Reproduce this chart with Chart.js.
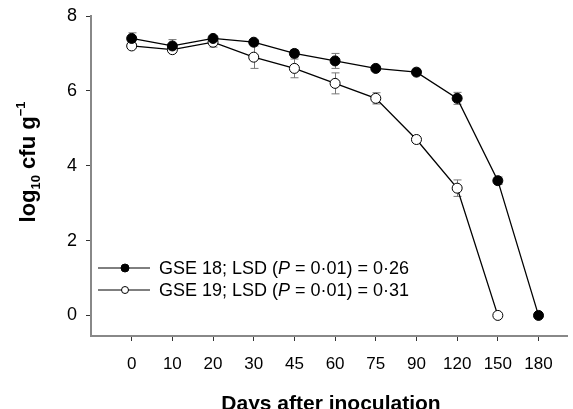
<!DOCTYPE html>
<html>
<head>
<meta charset="utf-8">
<script src="https://cdn.jsdelivr.net/npm/chart.js@4/dist/chart.umd.min.js"></script>
<style>
  html, body { margin: 0; padding: 0; background: #fff; }
  #wrap { width: 573px; height: 409px; }
</style>
</head>
<body>
<div id="wrap"><canvas id="chart-survival" width="573" height="409"></canvas></div>
<script>
const days = ['0', '10', '20', '30', '45', '60', '75', '90', '120', '150', '180'];
const gse18 = [7.4, 7.2, 7.4, 7.3, 7.0, 6.8, 6.6, 6.5, 5.8, 3.6, 0];
const gse18Err = [0.15, 0.17, 0.06, 0.06, 0.1, 0.2, 0.04, 0.05, 0.16, 0.1, 0];
const gse19 = [7.2, 7.1, 7.3, 6.9, 6.6, 6.2, 5.8, 4.7, 3.4, 0, null];
const gse19Err = [0.05, 0.06, 0.13, 0.3, 0.25, 0.28, 0.15, 0.08, 0.22, 0, null];
const yTicks = [0, 2, 4, 6, 8];
const xTitle = 'Days after inoculation';
const legendRows = [
  { pre: 'GSE 18; LSD (', post: ' = 0\u00b701) = 0\u00b726', filled: true },
  { pre: 'GSE 19; LSD (', post: ' = 0\u00b701) = 0\u00b731', filled: false }
];

const FONT = '"Liberation Sans", Arial, sans-serif';

function pts(vals) {
  return vals.map((v, i) => (v === null ? null : { x: i, y: v })).filter(p => p);
}

const errorBars = {
  id: 'errorBars',
  beforeDatasetsDraw(chart) {
    const { ctx, scales: { x, y } } = chart;
    const errs = [gse18Err, gse19Err];
    const vals = [gse18, gse19];
    ctx.save();
    ctx.strokeStyle = '#777';
    ctx.lineWidth = 1;
    errs.forEach((e, k) => {
      e.forEach((err, i) => {
        if (!err) return;
        const px = Math.round(x.getPixelForValue(i)) + 0.5;
        const top = y.getPixelForValue(vals[k][i] + err);
        const bot = y.getPixelForValue(vals[k][i] - err);
        ctx.beginPath();
        ctx.moveTo(px, top); ctx.lineTo(px, bot);
        ctx.moveTo(px - 4, top); ctx.lineTo(px + 4, top);
        ctx.moveTo(px - 4, bot); ctx.lineTo(px + 4, bot);
        ctx.stroke();
      });
    });
    ctx.restore();
  }
};

const extras = {
  id: 'extras',
  afterDraw(chart) {
    const ctx = chart.ctx;
    ctx.save();
    // legend inside the plot
    ctx.fillStyle = '#000';
    ctx.textBaseline = 'middle';
    legendRows.forEach((row, r) => {
      const yy = 268 + r * 22;
      ctx.strokeStyle = '#000';
      ctx.lineWidth = 1;
      ctx.beginPath();
      ctx.moveTo(98, yy); ctx.lineTo(150, yy);
      ctx.stroke();
      ctx.beginPath();
      ctx.arc(125, yy, row.filled ? 4 : 3.5, 0, Math.PI * 2);
      ctx.fillStyle = row.filled ? '#000' : '#fff';
      ctx.fill();
      ctx.stroke();
      ctx.fillStyle = '#000';
      let tx = 159;
      ctx.font = '18px ' + FONT;
      ctx.fillText(row.pre, tx, yy + 1);
      tx += ctx.measureText(row.pre).width;
      ctx.font = 'italic 18px ' + FONT;
      ctx.fillText('P', tx, yy + 1);
      tx += ctx.measureText('P').width;
      ctx.font = '18px ' + FONT;
      ctx.fillText(row.post, tx, yy + 1);
    });
    // x axis title, partly cut by the bottom edge as in the source
    ctx.textBaseline = 'alphabetic';
    ctx.textAlign = 'center';
    ctx.font = 'bold 21px ' + FONT;
    ctx.fillText(xTitle, 331, 410);
    ctx.textAlign = 'left';
    // y axis title: log10 cfu g-1
    ctx.translate(35, 162);
    ctx.rotate(-Math.PI / 2);
    const big = 'bold 22px ' + FONT;
    const small = 'bold 13px ' + FONT;
    const parts = [
      { t: 'log', f: big, dy: 0 },
      { t: '10', f: small, dy: 5 },
      { t: ' cfu g', f: big, dy: 0 },
      { t: '\u22121', f: small, dy: -10 }
    ];
    let w = 0;
    parts.forEach(p => { ctx.font = p.f; w += ctx.measureText(p.t).width; });
    let px = -w / 2;
    parts.forEach(p => {
      ctx.font = p.f;
      ctx.fillText(p.t, px, p.dy);
      px += ctx.measureText(p.t).width;
    });
    ctx.restore();
  }
};

new Chart(document.getElementById('chart-survival').getContext('2d'), {
  type: 'line',
  data: {
    datasets: [
      {
        label: 'GSE 18',
        data: pts(gse18),
        borderColor: '#000',
        borderWidth: 1.3,
        pointRadius: 5,
        pointBackgroundColor: '#000',
        pointBorderColor: '#000',
        pointBorderWidth: 1
      },
      {
        label: 'GSE 19',
        data: pts(gse19),
        borderColor: '#000',
        borderWidth: 1.3,
        pointRadius: 5,
        pointBackgroundColor: '#fff',
        pointBorderColor: '#000',
        pointBorderWidth: 1
      }
    ]
  },
  options: {
    responsive: false,
    animation: false,
    layout: { padding: { top: 16, right: 0, left: 0, bottom: 0 } },
    plugins: {
      legend: { display: false },
      tooltip: { enabled: false }
    },
    scales: {
      x: {
        type: 'linear',
        min: -1,
        max: 10.7,
        afterBuildTicks: s => { s.ticks = days.map((d, i) => ({ value: i })); },
        afterFit: s => { s.height = 73; },
        grid: { drawOnChartArea: false, drawTicks: true, tickLength: 5, color: '#333' },
        border: { color: '#888', width: 2 },
        ticks: {
          callback: v => days[v],
          color: '#000',
          padding: 13,
          maxRotation: 0,
          font: { family: FONT, size: 17 }
        }
      },
      y: {
        min: -0.55,
        max: 8,
        afterBuildTicks: s => { s.ticks = yTicks.map(v => ({ value: v })); },
        afterFit: s => { s.width = 91; s.paddingTop = 0; },
        grid: { drawOnChartArea: false, drawTicks: true, tickLength: 5, color: '#333' },
        border: { color: '#888', width: 2 },
        ticks: {
          color: '#000',
          padding: 9,
          font: { family: FONT, size: 18, lineHeight: 1 }
        }
      }
    }
  },
  plugins: [errorBars, extras]
});
</script>
</body>
</html>
